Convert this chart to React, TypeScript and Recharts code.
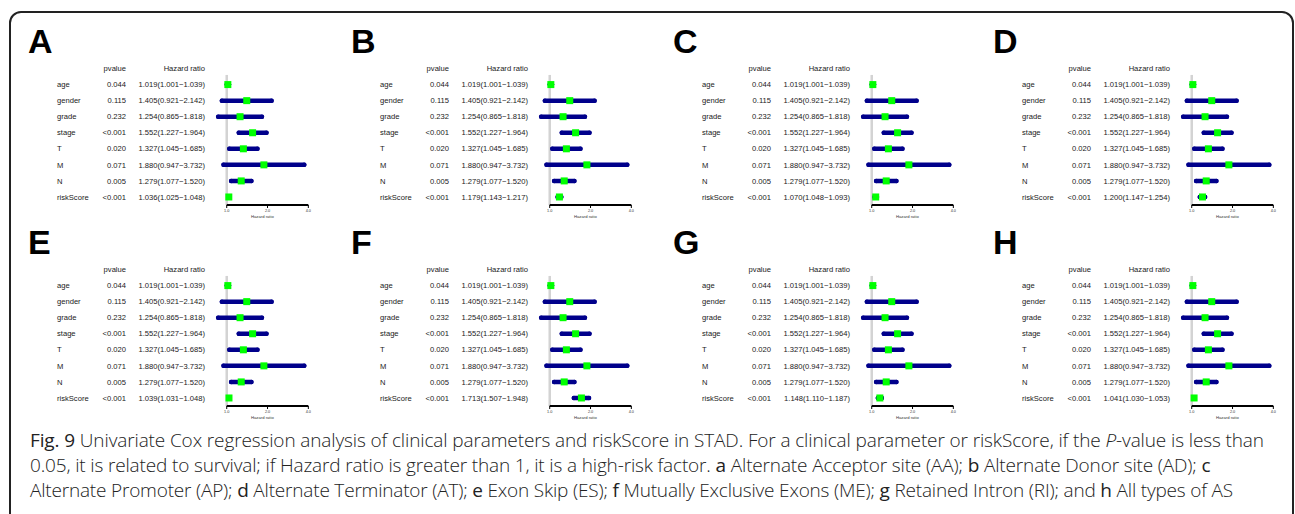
import React from 'react';
import { ScatterChart, Scatter, XAxis, YAxis, ErrorBar, ReferenceLine } from 'recharts';

// rows of every forest plot
const variables = ['age', 'gender', 'grade', 'stage', 'T', 'M', 'N', 'riskScore'];

// clinical parameters are the same in every panel
const clinicalPvalues = ['0.044', '0.115', '0.232', '<0.001', '0.020', '0.071', '0.005'];
const clinicalHR = [1.019, 1.405, 1.254, 1.552, 1.327, 1.88, 1.279];
const clinicalLow = [1.001, 0.921, 0.865, 1.227, 1.045, 0.947, 1.077];
const clinicalHigh = [1.039, 2.142, 1.818, 1.964, 1.685, 3.732, 1.52];

// riskScore row, one value per panel (A..H)
const panelLetters = ['A', 'B', 'C', 'D', 'E', 'F', 'G', 'H'];
const riskScorePvalues = ['<0.001', '<0.001', '<0.001', '<0.001', '<0.001', '<0.001', '<0.001', '<0.001'];
const riskScoreHR = [1.036, 1.179, 1.07, 1.2, 1.039, 1.713, 1.148, 1.041];
const riskScoreLow = [1.025, 1.143, 1.048, 1.147, 1.031, 1.507, 1.11, 1.03];
const riskScoreHigh = [1.048, 1.217, 1.093, 1.254, 1.048, 1.948, 1.187, 1.053];

const hrTicks = [1, 2, 4];

const panelX = [0, 323, 645, 965];
const panelY = [0, 201];

const FONT = '"Liberation Sans", Arial, Helvetica, sans-serif';
const TEXT = '#1a1a1a';

interface Row {
  name: string;
  y: number;
  x: number;
  p: string;
  low: number;
  high: number;
  err: [number, number];
}

function buildRows(panel: number): Row[] {
  const hr = [...clinicalHR, riskScoreHR[panel]];
  const low = [...clinicalLow, riskScoreLow[panel]];
  const high = [...clinicalHigh, riskScoreHigh[panel]];
  const pv = [...clinicalPvalues, riskScorePvalues[panel]];
  return variables.map((name, i) => ({
    name,
    y: i,
    x: hr[i],
    p: pv[i],
    low: low[i],
    high: high[i],
    err: [hr[i] - low[i], high[i] - hr[i]],
  }));
}

const fmt = (r: Row) => `${r.x.toFixed(3)}(${r.low.toFixed(3)}\u2212${r.high.toFixed(3)})`;

const textStyle = { fontFamily: FONT, fontSize: 7.6, fill: TEXT };

const makeTableTick = (rows: Row[]) => (props: any) => {
  const { y, payload } = props;
  const i = payload.value;
  if (i < 0) {
    return (
      <g>
        <text x={126} y={y} dy="0.35em" textAnchor="end" style={textStyle}>pvalue</text>
        <text x={205} y={y} dy="0.35em" textAnchor="end" style={textStyle}>Hazard ratio</text>
      </g>
    );
  }
  const r = rows[i];
  return (
    <g>
      <text x={57} y={y} dy="0.35em" textAnchor="start" style={textStyle}>{r.name}</text>
      <text x={126} y={y} dy="0.35em" textAnchor="end" style={textStyle}>{r.p}</text>
      <text x={205} y={y} dy="0.35em" textAnchor="end" style={textStyle}>{fmt(r)}</text>
    </g>
  );
};

const GreenBox = (props: any) => {
  const { cx, cy } = props;
  return <rect x={cx - 3.5} y={cy - 3.5} width={7} height={7} fill="#00FF00" />;
};

const ForestPanel = ({ panel }: { panel: number }) => {
  const rows = buildRows(panel);
  return (
    <ScatterChart width={322} height={222} margin={{ top: 62.1, right: 10.8, bottom: 3, left: 0 }}>
      <XAxis
        type="number"
        dataKey="x"
        scale="log"
        domain={[0.8, 4.2]}
        ticks={hrTicks}
        interval={0}
        axisLine={false}
        tickLine={{ stroke: '#000', strokeWidth: 1 }}
        tickSize={3}
        tickMargin={1}
        tick={{ fontSize: 3.8, fill: '#333', fontFamily: FONT }}
        tickFormatter={(v: number) => v.toFixed(1)}
        height={14}
        label={{ value: 'Hazard ratio', position: 'insideBottom', offset: 1.5, fontSize: 4.2, fill: '#333', fontFamily: FONT }}
      />
      <YAxis
        type="number"
        dataKey="y"
        domain={[-1.4, 7.5]}
        reversed
        ticks={[-1, 0, 1, 2, 3, 4, 5, 6, 7]}
        interval={0}
        axisLine={false}
        tickLine={false}
        width={213.6}
        tick={makeTableTick(rows)}
      />
      <ReferenceLine segment={[{ x: 1, y: -0.6 }, { x: 1, y: 7.5 }]} stroke="#d3d3d3" strokeWidth={2.5} />
      <ReferenceLine segment={[{ x: 1, y: 7.5 }, { x: 4, y: 7.5 }]} stroke="#000" strokeWidth={2} />
      <Scatter data={rows} shape={GreenBox} isAnimationActive={false}>
        <ErrorBar
          dataKey="err"
          direction="x"
          width={0}
          stroke="#00008b"
          strokeWidth={4.5}
          strokeLinecap="round"
          isAnimationActive={false}
        />
      </Scatter>
    </ScatterChart>
  );
};

export default function App() {
  return (
    <div style={{ position: 'relative', width: 1295, height: 514, overflow: 'hidden', background: '#fff' }}>
      <style>{'body{margin:0}'}</style>
      <div
        style={{
          position: 'absolute',
          left: 9,
          top: 11,
          width: 1285,
          height: 540,
          border: '2px solid #222',
          borderRadius: 12,
          boxSizing: 'border-box',
        }}
      />
      {panelLetters.map((letter, k) => {
        const left = panelX[k % 4];
        const top = panelY[Math.floor(k / 4)];
        return (
          <div key={letter} style={{ position: 'absolute', left, top }}>
            <div
              style={{
                position: 'absolute',
                left: 28,
                top: 24,
                fontFamily: FONT,
                fontWeight: 700,
                fontSize: 34,
                lineHeight: '34px',
                color: '#000',
              }}
            >
              {letter}
            </div>
            <ForestPanel panel={k} />
          </div>
        );
      })}
      <div
        style={{
          position: 'absolute',
          left: 30,
          top: 428,
          fontFamily: '"Open Sans", sans-serif',
          fontSize: 19,
          fontWeight: 300,
          lineHeight: '25px',
          color: '#222',
          whiteSpace: 'nowrap',
        }}
      >
        <div style={{ letterSpacing: -0.12 }}>
          <b>Fig. 9</b> Univariate Cox regression analysis of clinical parameters and riskScore in STAD. For a clinical
          parameter or riskScore, if the <i>P</i>-value is less than
        </div>
        <div style={{ letterSpacing: -0.15 }}>
          0.05, it is related to survival; if Hazard ratio is greater than 1, it is a high-risk factor. <b>a</b> Alternate
          Acceptor site (AA); <b>b</b> Alternate Donor site (AD); <b>c</b>
        </div>
        <div style={{ letterSpacing: -0.19 }}>
          Alternate Promoter (AP); <b>d</b> Alternate Terminator (AT); <b>e</b> Exon Skip (ES); <b>f</b> Mutually
          Exclusive Exons (ME); <b>g</b> Retained Intron (RI); and <b>h</b> All types of AS
        </div>
      </div>
    </div>
  );
}
